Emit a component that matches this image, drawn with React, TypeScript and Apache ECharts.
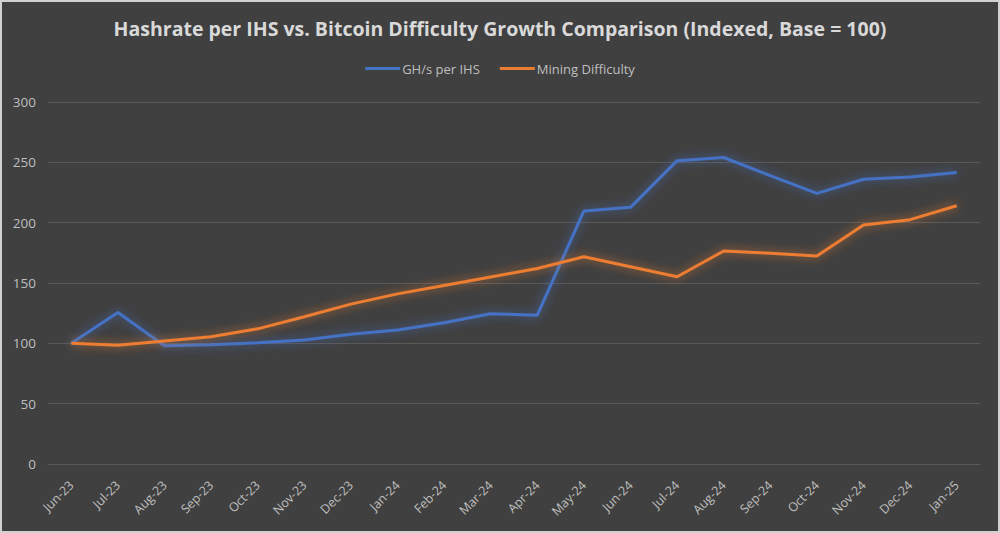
import React, { useEffect, useRef } from "react";
import * as echarts from "echarts";

const categories = ["Jun-23","Jul-23","Aug-23","Sep-23","Oct-23","Nov-23","Dec-23","Jan-24","Feb-24","Mar-24","Apr-24","May-24","Jun-24","Jul-24","Aug-24","Sep-24","Oct-24","Nov-24","Dec-24","Jan-25"];
const hashratePerIHS = [100,125.5,98,98.8,100.5,102.8,107.5,111,117,124.5,123.3,209.7,212.7,251.4,254,239,224.3,236,237.8,241.6];
const miningDifficulty = [100,98.5,102,105.5,112,122,132.5,141,148,155,162,171.8,163.5,155.2,176.5,174.6,172.4,198,202.5,214];
const yTicks = { min: 0, max: 300, interval: 50 };

const FONT = "'Open Sans', sans-serif";

export default function App() {
  const ref = useRef<HTMLDivElement>(null);
  useEffect(() => {
    document.body.style.margin = "0";
    const chart = echarts.init(ref.current!, undefined, { renderer: "svg" });
    chart.setOption({
      animation: false,
      backgroundColor: "#404040",
      title: {
        text: "Hashrate per IHS vs. Bitcoin Difficulty Growth Comparison (Indexed, Base = 100)",
        left: "center",
        top: 11,
        textStyle: { color: "#d9d9d9", fontSize: 19.5, fontWeight: "bold", fontFamily: FONT },
      },
      legend: {
        top: 55,
        left: "center",
        itemWidth: 35,
        itemHeight: 3,
        itemGap: 20,
        icon: "rect",
        textStyle: { color: "#bfbfbf", fontSize: 13, fontFamily: FONT, padding: [0, 0, 0, -3] },
        data: ["GH/s per IHS", "Mining Difficulty"],
      },
      grid: { left: 46, right: 18, top: 100, bottom: 67 },
      xAxis: {
        type: "category",
        data: categories,
        boundaryGap: true,
        axisLine: { show: true, lineStyle: { color: "#595959" } },
        axisTick: { show: false },
        axisLabel: { color: "#bfbfbf", fontSize: 12.5, fontFamily: FONT, rotate: 45, margin: 19, interval: 0 },
      },
      yAxis: {
        type: "value",
        min: yTicks.min,
        max: yTicks.max,
        interval: yTicks.interval,
        axisLine: { show: false },
        axisTick: { show: false },
        splitLine: { lineStyle: { color: "#595959", width: 1 } },
        axisLabel: { color: "#bfbfbf", fontSize: 13.5, fontFamily: FONT, margin: 12 },
      },
      series: [
        {
          name: "GH/s per IHS",
          type: "line",
          data: hashratePerIHS,
          symbol: "none",
          itemStyle: { color: "#4472c4" },
          lineStyle: { color: "#4472c4", width: 3, shadowColor: "rgba(68,114,196,0.8)", shadowBlur: 10 },
        },
        {
          name: "Mining Difficulty",
          type: "line",
          data: miningDifficulty,
          symbol: "none",
          itemStyle: { color: "#ed7d31" },
          lineStyle: { color: "#ed7d31", width: 3, shadowColor: "rgba(237,125,49,0.8)", shadowBlur: 10 },
        },
      ],
    });
    return () => chart.dispose();
  }, []);
  return (
    <div style={{ position: "absolute", left: 0, top: 0, width: 1000, height: 533, boxSizing: "border-box", border: "2px solid #d0d0d0", background: "#404040" }}>
      <div ref={ref} style={{ width: 996, height: 529 }} />
    </div>
  );
}
